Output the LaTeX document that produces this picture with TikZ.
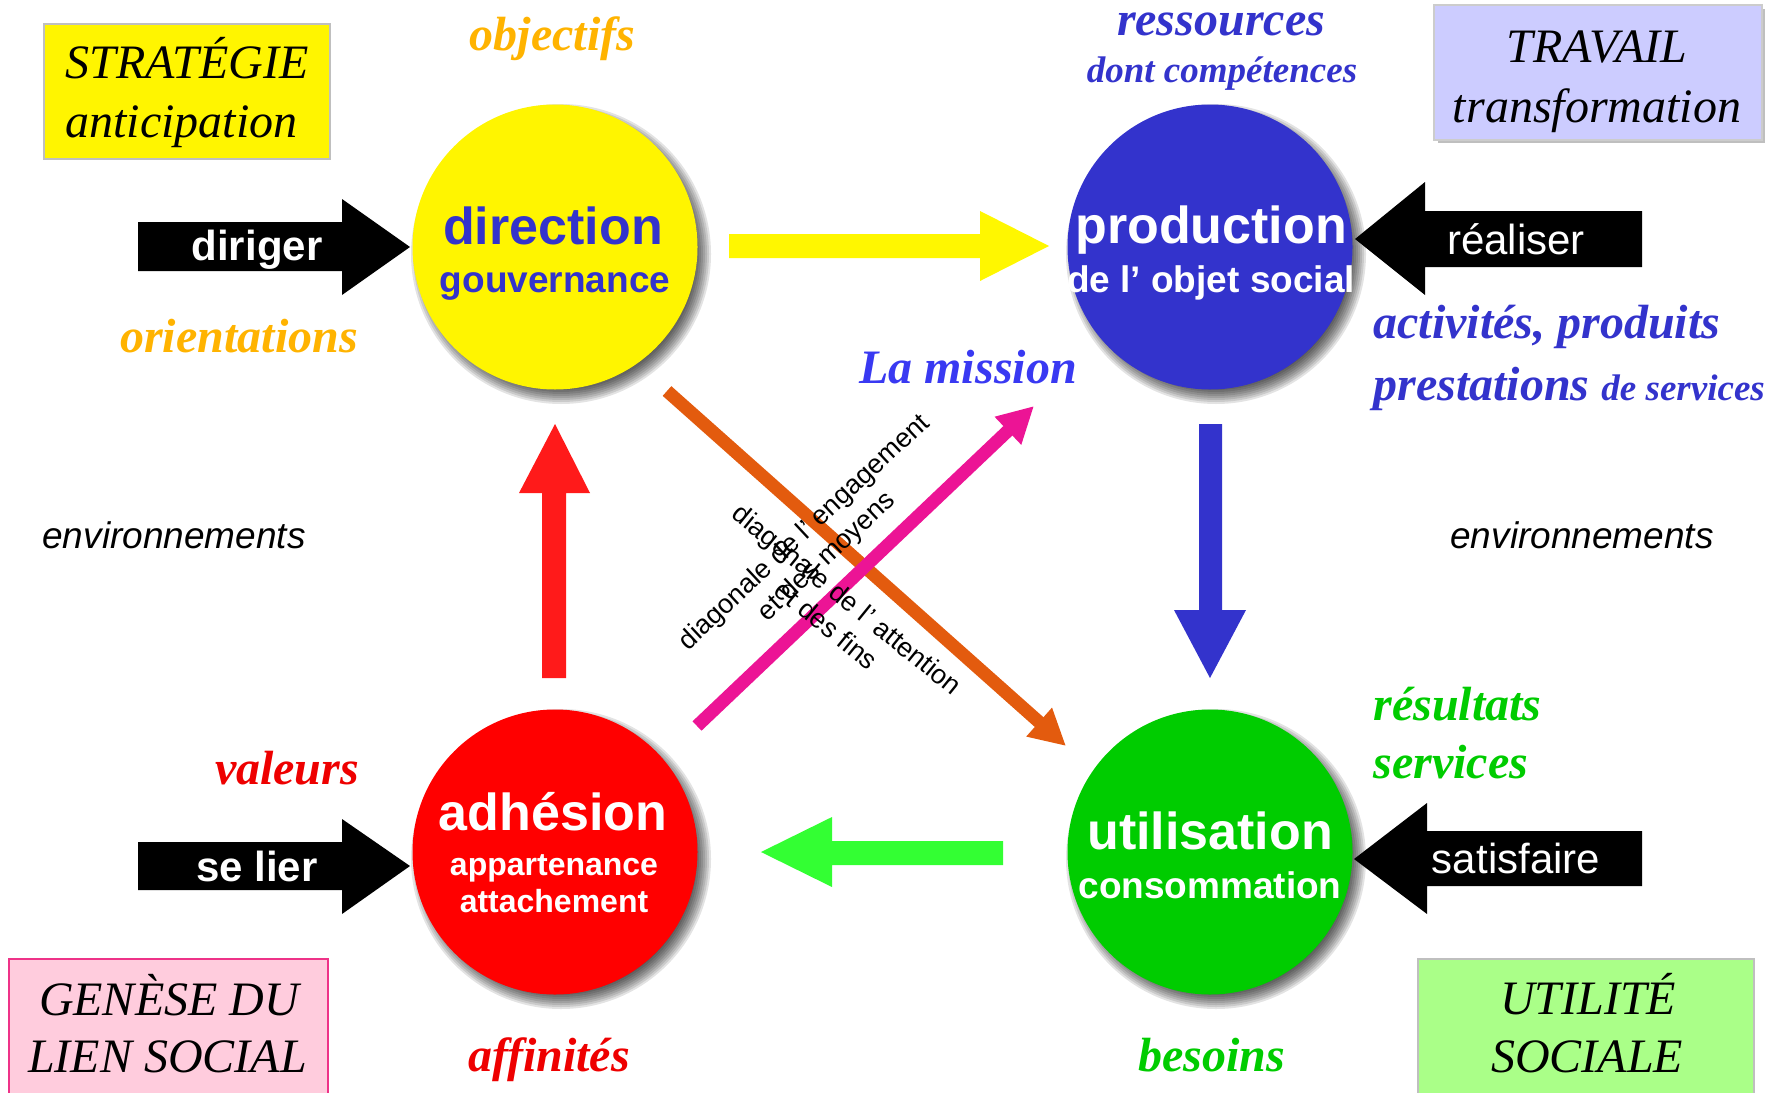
\documentclass[tikz,border=0pt]{standalone}
\usepackage{fontspec}
\setmainfont{Liberation Serif}
\setsansfont{Liberation Sans}
\usetikzlibrary{arrows.meta,calc}

\definecolor{cyel}{HTML}{FFF500}
\definecolor{cblu}{HTML}{3333CC}
\definecolor{cred}{HTML}{FF0000}
\definecolor{cgrn}{HTML}{00CC00}
\definecolor{torange}{HTML}{FFB300}
\definecolor{tblue}{HTML}{3333CC}
\definecolor{tmission}{HTML}{3939F2}
\definecolor{tred}{HTML}{EE0000}
\definecolor{tgreen}{HTML}{00CC00}
\definecolor{adiag}{HTML}{E35B0E}
\definecolor{pdiag}{HTML}{EC1495}
\definecolor{ayel}{HTML}{FFF700}
\definecolor{ablu}{HTML}{3333CC}
\definecolor{ared}{HTML}{FF1A1A}
\definecolor{agrn}{HTML}{33FF33}
\definecolor{bxyel}{HTML}{FFF500}
\definecolor{bxblu}{HTML}{CCCCFF}
\definecolor{bxpink}{HTML}{FFCCDD}
\definecolor{bxpinkline}{HTML}{EE3388}
\definecolor{bxgrn}{HTML}{AAFF88}

\begin{document}
\begin{tikzpicture}[x=0.5pt,y=-0.5pt,
  big/.style={font=\fontsize{24}{28}\selectfont\bfseries\itshape, anchor=base, inner sep=0pt},
  small/.style={font=\fontsize{18.5}{22}\selectfont\bfseries\itshape, anchor=base, inner sep=0pt},
  boxline/.style={font=\fontsize{24}{28}\selectfont\itshape, anchor=base, inner sep=0pt},
  ctitle/.style={font=\sffamily\bfseries\fontsize{26}{30}\selectfont, anchor=base, inner sep=0pt},
  csub/.style={font=\sffamily\bfseries\fontsize{18.5}{22}\selectfont, anchor=base, inner sep=0pt},
  csmall/.style={font=\sffamily\bfseries\fontsize{16}{19}\selectfont, anchor=base, inner sep=0pt, text=white},
  verb/.style={font=\sffamily\fontsize{21}{25}\selectfont, anchor=base, inner sep=0pt, text=white},
  envtxt/.style={font=\sffamily\itshape\fontsize{18.5}{22}\selectfont, anchor=base, inner sep=0pt},
  diagtxt/.style={font=\sffamily\fontsize{13.5}{16.5}\selectfont, align=center, inner sep=0pt},
  disc/.style={circle, minimum size=142.5pt, inner sep=0pt},
  framebox/.style={rectangle, inner sep=0pt, line width=0.6pt},
  diagarrow/.style={line width=6.5pt, -{Triangle[length=18pt,width=18pt]}}
]
\useasboundingbox (0,0) rectangle (1787,1092);

% centres of the four discs
\coordinate (cdir) at (555,247);
\coordinate (cpro) at (1210,247);
\coordinate (cadh) at (555,852);
\coordinate (cuti) at (1210,852);

% soft shadows under the discs
\foreach \c in {cdir,cpro,cadh,cuti}{
  \foreach \r in {67,68,...,75}{
    \fill[black,opacity=0.11] ($(\c)+(6,7)$) circle[radius=\r pt];
  }
}

% corner boxes
\fill[black!25] (1438,9) rectangle (1765,143);
\node[framebox, draw=black!25, fill=bxyel, minimum width=143pt, minimum height=67.5pt] (strat) at (187,91.5) {};
\node[framebox, draw=black!20, fill=bxblu, minimum width=164pt, minimum height=67.5pt] (trav) at (1598,72.5) {};
\node[framebox, draw=bxpinkline, fill=bxpink, minimum width=159.5pt, minimum height=70.5pt] (gene) at (168.5,1029.5) {};
\node[framebox, draw=black!25, fill=bxgrn, minimum width=168pt, minimum height=70.5pt] (util) at (1586,1029.5) {};

\node[boxline, anchor=base west] (stratA) at (65,78) {STRATÉGIE};
\node[boxline, anchor=base west] (stratB) at (65,137) {anticipation};
\node[boxline] (travA) at (1597,62) {TRAVAIL};
\node[boxline] (travB) at (1597,122) {transformation};
\node[boxline] (geneA) at (169,1015) {GENÈSE DU};
\node[boxline] (geneB) at (167.5,1072) {LIEN SOCIAL};
\node[boxline] (utilA) at (1588,1014) {UTILITÉ};
\node[boxline] (utilB) at (1587,1072) {SOCIALE};

% discs
\node[disc, fill=cyel] (dir) at (cdir) {};
\node[disc, fill=cblu] (pro) at (cpro) {};
\node[disc, fill=cred] (adh) at (cadh) {};
\node[disc, fill=cgrn] (uti) at (cuti) {};

\node[ctitle, text=cblu] (dirA) at (553,244) {direction};
\node[csub, text=cblu] (dirB) at (555,292) {gouvernance};
\node[ctitle, text=white] (proA) at (1211,243) {production};
\node[csub, text=white] (proB) at (1211,292) {de l’ objet social};
\node[ctitle, text=white] (adhA) at (553,830) {adhésion};
\node[csmall] (adhB) at (554,875) {appartenance};
\node[csmall] (adhC) at (554,912) {attachement};
\node[ctitle, text=white] (utiA) at (1210,849) {utilisation};
\node[csub, text=white] (utiB) at (1210,898) {consommation};

% black block arrows with verbs
\fill[black] (138,222) -- (342,222) -- (342,199) -- (410,247) -- (342,295) -- (342,271) -- (138,271) -- cycle;
\fill[black] (138,842) -- (342,842) -- (342,819) -- (410,866) -- (342,914) -- (342,890) -- (138,890) -- cycle;
\fill[black] (1642,211) -- (1425,211) -- (1425,182) -- (1355,239) -- (1425,295) -- (1425,267) -- (1642,267) -- cycle;
\fill[black] (1642,831) -- (1427,831) -- (1427,803) -- (1354,859) -- (1427,914) -- (1427,886) -- (1642,886) -- cycle;
\node[verb, font=\sffamily\bfseries\fontsize{21}{25}\selectfont] (vdir) at (257,260) {diriger};
\node[verb, font=\sffamily\bfseries\fontsize{21}{25}\selectfont] (vlie) at (257,881) {se lier};
\node[verb] (vrea) at (1516,254) {réaliser};
\node[verb] (vsat) at (1516,873) {satisfaire};

% coloured block arrows between the discs
\fill[ayel] (729,234) -- (980,234) -- (980,211) -- (1049,246) -- (980,281) -- (980,258) -- (729,258) -- cycle;
\fill[ablu] (1199,424) -- (1199,610) -- (1174,610) -- (1210,678) -- (1246,610) -- (1222,610) -- (1222,424) -- cycle;
\fill[agrn] (1003,841) -- (832,841) -- (832,817) -- (761,852) -- (832,887) -- (832,865) -- (1003,865) -- cycle;
\fill[ared] (542,678) -- (542,493) -- (519,493) -- (555,424) -- (590,493) -- (566,493) -- (566,678) -- cycle;

% the two diagonals
\coordinate (o1) at (667,391);
\coordinate (o2) at (1066,746);
\coordinate (p1) at (697,726);
\coordinate (p2) at (1034,406);
\draw[diagarrow, color=adiag] (o1) -- (o2);
\draw[diagarrow, color=pdiag] (p1) -- (p2);
\node[diagtxt, rotate=43] (dg1) at (816,545) {diagonale de l’ engagement\\et des moyens};
\node[diagtxt, rotate=-39] (dg2) at (837,612) {diagonale de l’ attention\\et des fins};

% coloured keywords
\node[big, text=torange] (objectifs) at (552.5,50) {objectifs};
\node[big, text=torange] (orient) at (239,352) {orientations};
\node[big, text=tblue] (ress) at (1221,35) {ressources};
\node[small, text=tblue] (comp) at (1222,82) {dont compétences};
\node[big, text=tblue, anchor=base west] (activ) at (1373,338) {activités, produits};
\node[big, text=tblue, anchor=base west] (prest) at (1373,400) {prestations {\fontsize{18.5}{22}\selectfont de services}};
\node[big, text=tmission] (mission) at (968,383) {La mission};
\node[envtxt] (envL) at (174,548) {environnements};
\node[envtxt] (envR) at (1582,548) {environnements};
\node[big, text=tred] (valeurs) at (287,784) {valeurs};
\node[big, text=tred] (affin) at (549,1071) {affinités};
\node[big, text=tgreen] (besoins) at (1212,1071) {besoins};
\node[big, text=tgreen, anchor=base west] (result) at (1373,720) {résultats};
\node[big, text=tgreen, anchor=base west] (serv) at (1373,778) {services};
\end{tikzpicture}
\end{document}
